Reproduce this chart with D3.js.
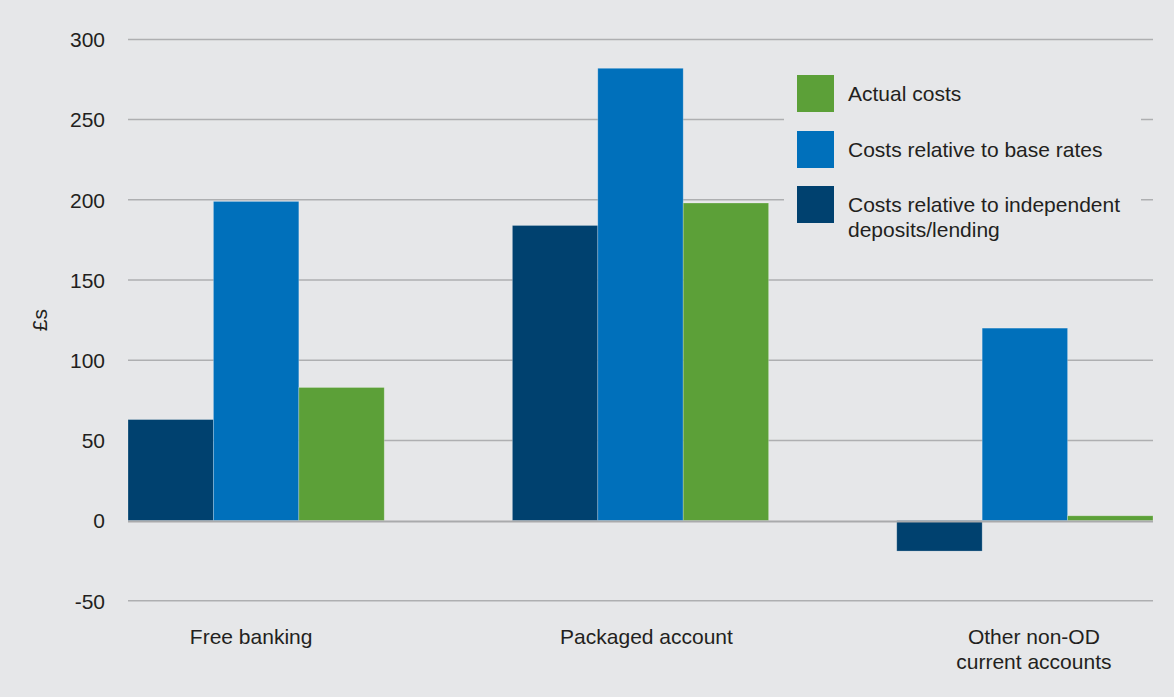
<!DOCTYPE html>
<html>
<head>
<meta charset="utf-8">
<script src="https://cdn.jsdelivr.net/npm/d3@7/dist/d3.min.js"></script>
<style>
  html, body { margin: 0; padding: 0; background: #e6e7e9; }
  svg { display: block; }
  text { font-family: "Liberation Sans", Arial, sans-serif; fill: #231f20; }
</style>
</head>
<body>
<svg id="chart" width="1174" height="697"></svg>
<script>
// Account types along the x axis (multi-line labels split by "\n")
const categories = ["Free banking", "Packaged account", "Other non-OD\ncurrent accounts"];

// Series, in bar order within each group
const seriesNames = ["Costs relative to independent deposits/lending", "Costs relative to base rates", "Actual costs"];
const independentCosts = [63, 184, -19];
const baseRateCosts = [199, 282, 120];
const actualCosts = [83, 198, 3];

// Legend order (top to bottom)
const legendLabels = [["Actual costs"], ["Costs relative to base rates"], ["Costs relative to independent", "deposits/lending"]];

const yTicks = [-50, 0, 50, 100, 150, 200, 250, 300];
const yLabel = "£s";

const colors = ["#00416f", "#0070bb", "#5ca038"];
const seriesValues = [independentCosts, baseRateCosts, actualCosts];

const FONT = 21;
const svg = d3.select("#chart");
const W = 1174, H = 697;
svg.append("rect").attr("width", W).attr("height", H).attr("fill", "#e6e7e9");

const x0 = d3.scaleBand().domain(d3.range(categories.length)).range([128, 1153]).paddingInner(1 / 3).paddingOuter(0);
const x1 = d3.scaleBand().domain(d3.range(seriesNames.length)).range([0, x0.bandwidth()]).padding(0);
const y = d3.scaleLinear().domain([-50, 300]).range([600.8, 39.4]);

// Horizontal gridlines
svg.append("g").selectAll("line").data(yTicks.filter(d => d !== 0)).join("line")
  .attr("x1", 128).attr("x2", 1153)
  .attr("y1", d => y(d)).attr("y2", d => y(d))
  .attr("stroke", "#aeafb1").attr("stroke-width", 1.5);

// Y tick labels (plain hyphen for negatives)
const yAxis = d3.axisLeft(y).tickValues(yTicks).tickSize(0).tickPadding(0).tickFormat(d => String(d));
const gy = svg.append("g").attr("transform", "translate(105,0)").call(yAxis);
gy.select(".domain").remove();
gy.selectAll("text").attr("font-size", FONT).attr("font-family", "Liberation Sans, Arial, sans-serif").attr("fill", "#231f20").attr("dy", "0.35em");

// Y axis title
svg.append("text").attr("transform", `translate(47,${y(125)}) rotate(-90)`)
  .attr("text-anchor", "middle").attr("font-size", FONT).text(yLabel);

// Bars
const groups = svg.append("g").selectAll("g").data(categories).join("g")
  .attr("transform", (d, i) => `translate(${x0(i)},0)`);
groups.selectAll("rect").data((d, i) => seriesValues.map((vals, s) => ({ s, v: vals[i] }))).join("rect")
  .attr("x", d => x1(d.s))
  .attr("width", x1.bandwidth())
  .attr("y", d => y(Math.max(0, d.v)))
  .attr("height", d => Math.abs(y(d.v) - y(0)))
  .attr("fill", d => colors[d.s])
  .attr("stroke", "rgba(255,255,255,0.3)").attr("stroke-width", 0.8);

// Zero baseline
svg.append("line").attr("x1", 128).attr("x2", 1153).attr("y1", y(0) + 1).attr("y2", y(0) + 1)
  .attr("stroke", "#a9aaac").attr("stroke-width", 2);

// Category labels, nudged slightly from the band centres
const labelNudge = [-5, 6, 9];
const xl = svg.append("g");
categories.forEach((c, i) => {
  const cx = x0(i) + x0.bandwidth() / 2 + labelNudge[i];
  const t = xl.append("text").attr("text-anchor", "middle").attr("font-size", FONT).attr("x", cx).attr("y", 644);
  c.split("\n").forEach((line, k) => {
    t.append("tspan").attr("x", cx).attr("dy", k === 0 ? 0 : 25).text(line);
  });
});

// Legend (box masks the gridlines behind it)
const legend = svg.append("g");
legend.append("rect").attr("x", 784).attr("y", 66).attr("width", 357).attr("height", 180).attr("fill", "#e6e7e9");
const legendColors = [colors[2], colors[1], colors[0]];
const legendY = [75, 131, 186];
legendLabels.forEach((lines, i) => {
  legend.append("rect").attr("x", 797).attr("y", legendY[i]).attr("width", 37).attr("height", 37).attr("fill", legendColors[i]);
  const t = legend.append("text").attr("font-size", FONT).attr("x", 848).attr("y", legendY[i] + 26);
  lines.forEach((line, k) => t.append("tspan").attr("x", 848).attr("dy", k === 0 ? 0 : 25).text(line));
});
</script>
</body>
</html>
